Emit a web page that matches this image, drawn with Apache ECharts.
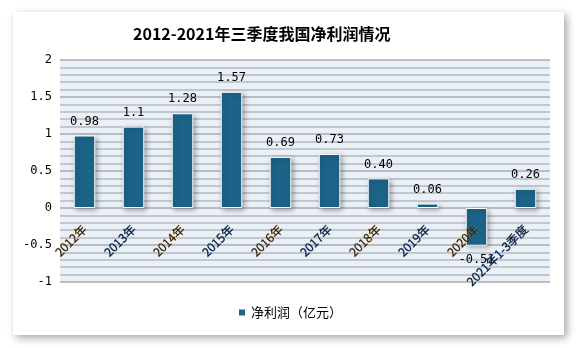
<!DOCTYPE html>
<html>
<head>
<meta charset="utf-8">
<script src="https://cdn.jsdelivr.net/npm/echarts@6/dist/echarts.min.js"></script>
<style>
html,body{margin:0;padding:0;background:#fff;}
#c{width:579px;height:348px;}
</style>
</head>
<body>
<div id="c"></div>
<script>
var categories = ['2012年','2013年','2014年','2015年','2016年','2017年','2018年','2019年','2020年','2021年1-3季度'];
var values = [0.98, 1.1, 1.28, 1.57, 0.69, 0.73, 0.40, 0.06, -0.51, 0.26];
var valueLabels = ['0.98','1.1','1.28','1.57','0.69','0.73','0.40','0.06','-0.51','0.26'];
var yTicks = {min: -1, max: 2, interval: 0.5};
var seriesName = '净利润（亿元）';
var titleText = '2012-2021年三季度我国净利润情况';

var chart = echarts.init(document.getElementById('c'));
var monoFont = 'DejaVu Sans Mono, Liberation Mono, monospace';
var cjkFont = 'Noto Sans CJK SC, sans-serif';
var labelBorders = ['rgba(225,140,40,0.6)', 'rgba(50,120,210,0.6)'];

var gridTop = 60, gridBottom = 66, H = 348;
var plotH = H - gridTop - gridBottom;
var zeroOffset = -plotH * (0 - yTicks.min) / (yTicks.max - yTicks.min);

chart.setOption({
  animation: false,
  graphic: [{
    type: 'rect', z: -10,
    shape: {x: 13, y: 12, width: 551, height: 323},
    style: {fill: '#fff', shadowBlur: 8, shadowOffsetX: 3, shadowOffsetY: 3, shadowColor: 'rgba(0,0,0,0.35)'}
  }],
  title: {
    text: titleText, left: 128, top: 21,
    textStyle: {fontFamily: cjkFont, fontSize: 16, fontWeight: 'bold', color: '#000'}
  },
  legend: {
    bottom: 24, left: 'center', itemWidth: 8, itemHeight: 8, icon: 'rect',
    textStyle: {fontFamily: cjkFont, fontSize: 13, color: '#000'},
    data: [seriesName]
  },
  grid: {left: 60, right: 29, top: gridTop, bottom: gridBottom, show: true, backgroundColor: '#e9f0f7', borderWidth: 0,
    containLabel: false, outerBoundsMode: 'none'},
  xAxis: {
    type: 'category', position: 'bottom', offset: zeroOffset + 9, z: 20,
    data: categories.map(function (c, i) {
      return {value: c, textStyle: {textBorderColor: labelBorders[i % 2]}};
    }),
    axisLine: {show: false, onZero: false},
    axisTick: {show: false},
    axisLabel: {rotate: 45, interval: 0, margin: 10, fontFamily: cjkFont, fontSize: 12, color: '#111', textBorderWidth: 0.7}
  },
  yAxis: {
    type: 'value', min: yTicks.min, max: yTicks.max, interval: yTicks.interval,
    axisLine: {show: false}, axisTick: {show: false},
    axisLabel: {margin: 8, fontFamily: monoFont, fontSize: 12, color: '#000'},
    splitLine: {lineStyle: {color: '#a9adb1', width: 1.5}},
    minorTick: {show: false, splitNumber: 5},
    minorSplitLine: {show: true, lineStyle: {color: '#b5b9bd', width: 1.5}}
  },
  series: [{
    name: seriesName, type: 'bar', barWidth: '44%',
    itemStyle: {color: '#1b6488', borderColor: '#fff', borderWidth: 1,
      shadowBlur: 5, shadowOffsetX: 2, shadowOffsetY: 2, shadowColor: 'rgba(0,0,0,0.3)'},
    data: values.map(function (v, i) {
      return {value: v, label: {position: v < 0 ? 'bottom' : 'top'}};
    }),
    label: {
      show: true, distance: 8, fontFamily: monoFont, fontSize: 12, color: '#000',
      formatter: function (p) { return valueLabels[p.dataIndex]; }
    }
  }]
});
</script>
</body>
</html>
